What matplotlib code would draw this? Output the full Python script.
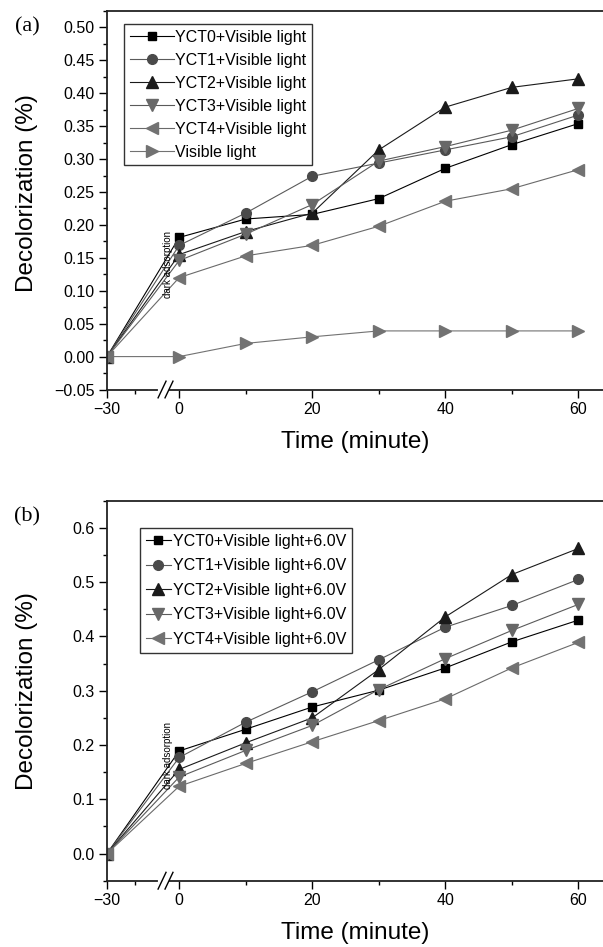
import matplotlib
matplotlib.use("Agg")
import matplotlib.pyplot as plt
import matplotlib.ticker as mticker
import numpy as np

plt.rcParams["font.family"] = ["Liberation Sans", "DejaVu Sans"]

# time points (minute); -30 is the dark adsorption start
time = [-30, 0, 10, 20, 30, 40, 50, 60]

# panel (a): visible light only
a_yct0 = [0.0, 0.181, 0.209, 0.216, 0.240, 0.286, 0.322, 0.354]
a_yct1 = [0.0, 0.169, 0.218, 0.274, 0.294, 0.314, 0.334, 0.367]
a_yct2 = [0.0, 0.155, 0.190, 0.218, 0.314, 0.379, 0.409, 0.422]
a_yct3 = [0.0, 0.146, 0.186, 0.231, 0.297, 0.319, 0.344, 0.377]
a_yct4 = [0.0, 0.120, 0.153, 0.169, 0.198, 0.236, 0.255, 0.284]
a_light = [0.0, 0.0, 0.020, 0.030, 0.039, 0.039, 0.039, 0.039]

# panel (b): visible light + 6.0 V
b_yct0 = [0.0, 0.189, 0.229, 0.270, 0.301, 0.342, 0.390, 0.430]
b_yct1 = [0.0, 0.177, 0.242, 0.298, 0.357, 0.417, 0.457, 0.505]
b_yct2 = [0.0, 0.155, 0.204, 0.250, 0.339, 0.436, 0.514, 0.562]
b_yct3 = [0.0, 0.141, 0.190, 0.236, 0.302, 0.359, 0.411, 0.459]
b_yct4 = [0.0, 0.124, 0.166, 0.206, 0.245, 0.285, 0.342, 0.389]

labels_a = ["YCT0+Visible light", "YCT1+Visible light", "YCT2+Visible light",
            "YCT3+Visible light", "YCT4+Visible light", "Visible light"]
labels_b = [s + "+6.0V" for s in labels_a[:5]]

# marker, marker colour, line colour, marker size
styles = [
    ("s", "#000000", "#000000", 6),
    ("o", "#4a4a4a", "#5a5a5a", 7),
    ("^", "#1a1a1a", "#1a1a1a", 8),
    ("v", "#686868", "#5a5a5a", 8),
    ("<", "#727272", "#6a6a6a", 8),
    (">", "#727272", "#727272", 8),
]

# compressed span for the broken part of the axis (-30 .. 0)
K = 10.85 / 30.0


def fwd(x):
    x = np.asarray(x, dtype=float)
    return np.where(x < 0, x * K, x)


def inv(x):
    x = np.asarray(x, dtype=float)
    return np.where(x < 0, x / K, x)


def minus_fmt(v, pos):
    return f"{v:.2f}".replace("-", "\u2212")


def panel(ax, series, labels, ylim, ymajor, yfmt, leg_anchor, handlelength,
          ylab_y, labelspacing):
    for ys, lab, (m, mc, lc, ms) in zip(series, labels, styles):
        ax.plot(time, ys, color=lc, lw=0.8, marker=m, ms=ms,
                markerfacecolor=mc, markeredgecolor=mc, label=lab)

    ax.set_xscale("function", functions=(fwd, inv))
    ax.set_xlim(-30, 63.7)
    ax.set_ylim(*ylim)
    ax.set_xticks([-30, 0, 20, 40, 60])
    ax.set_xticks([-18.4, 10, 30, 50], minor=True)
    ax.xaxis.set_major_formatter(mticker.FuncFormatter(
        lambda v, p: f"{v:.0f}".replace("-", "\u2212")))
    ax.yaxis.set_major_locator(mticker.MultipleLocator(ymajor))
    ax.yaxis.set_minor_locator(mticker.MultipleLocator(ymajor / 2))
    ax.yaxis.set_major_formatter(mticker.FuncFormatter(yfmt))

    ax.spines["right"].set_visible(False)
    for s in ("left", "bottom", "top"):
        ax.spines[s].set_linewidth(1.3)
        ax.spines[s].set_color("#222222")
    ax.tick_params(which="major", direction="out", length=5.5, width=1,
                   labelsize=11.5, top=False, right=False)
    ax.tick_params(which="minor", direction="out", length=3, width=1,
                   top=False, right=False)

    ax.set_xlabel("Time (minute)", fontsize=17.5, labelpad=10)
    ax.set_ylabel("Decolorization (%)", fontsize=17.5)
    ax.yaxis.set_label_coords(-0.14, ylab_y)

    ax.text(-4.7, ylim[0] + 0.33 * (ylim[1] - ylim[0]), "dark adsorption",
            rotation=90, fontsize=7, ha="center", va="center")

    # axis break marks
    ax.plot([0.106, 0.121], [0.0, 0.0], color="white", lw=3,
            transform=ax.transAxes, clip_on=False, zorder=5)
    for x0 in (0.103, 0.117):
        ax.plot([x0, x0 + 0.016], [-0.022, 0.022], color="black", lw=1,
                transform=ax.transAxes, clip_on=False, zorder=6)

    leg = ax.legend(loc="upper left", bbox_to_anchor=leg_anchor,
                    bbox_transform=ax.figure.transFigure, borderaxespad=0,
                    fontsize=11.5, handlelength=handlelength, handletextpad=0.1,
                    labelspacing=labelspacing, borderpad=0.35, fancybox=False,
                    frameon=True)
    leg.get_frame().set_edgecolor("black")
    leg.get_frame().set_linewidth(1)


W, H = 603, 947
fig = plt.figure(figsize=(6.03, 9.47), dpi=100)

ax_a = fig.add_axes([107 / W, 1 - 389.5 / H, 496 / W, 378.5 / H])
panel(ax_a, [a_yct0, a_yct1, a_yct2, a_yct3, a_yct4, a_light], labels_a,
      (-0.05, 0.525), 0.05, minus_fmt, (124 / W, 1 - 24 / H), 2.75, 0.52, 0.5)

ax_b = fig.add_axes([107 / W, 1 - 880.7 / H, 496 / W, 380 / H])
panel(ax_b, [b_yct0, b_yct1, b_yct2, b_yct3, b_yct4], labels_b,
      (-0.05, 0.65), 0.1, lambda v, p: f"{v:.1f}".replace("-", "\u2212"),
      (140 / W, 1 - 528 / H), 1.6, 0.5, 0.6)

fig.text(27 / W, 1 - 27 / H, "(a)", fontsize=16, family="Liberation Serif",
         ha="center", va="center")
fig.text(27 / W, 1 - 517 / H, "(b)", fontsize=16, family="Liberation Serif",
         ha="center", va="center")

fig.savefig("out.png", dpi=100)
